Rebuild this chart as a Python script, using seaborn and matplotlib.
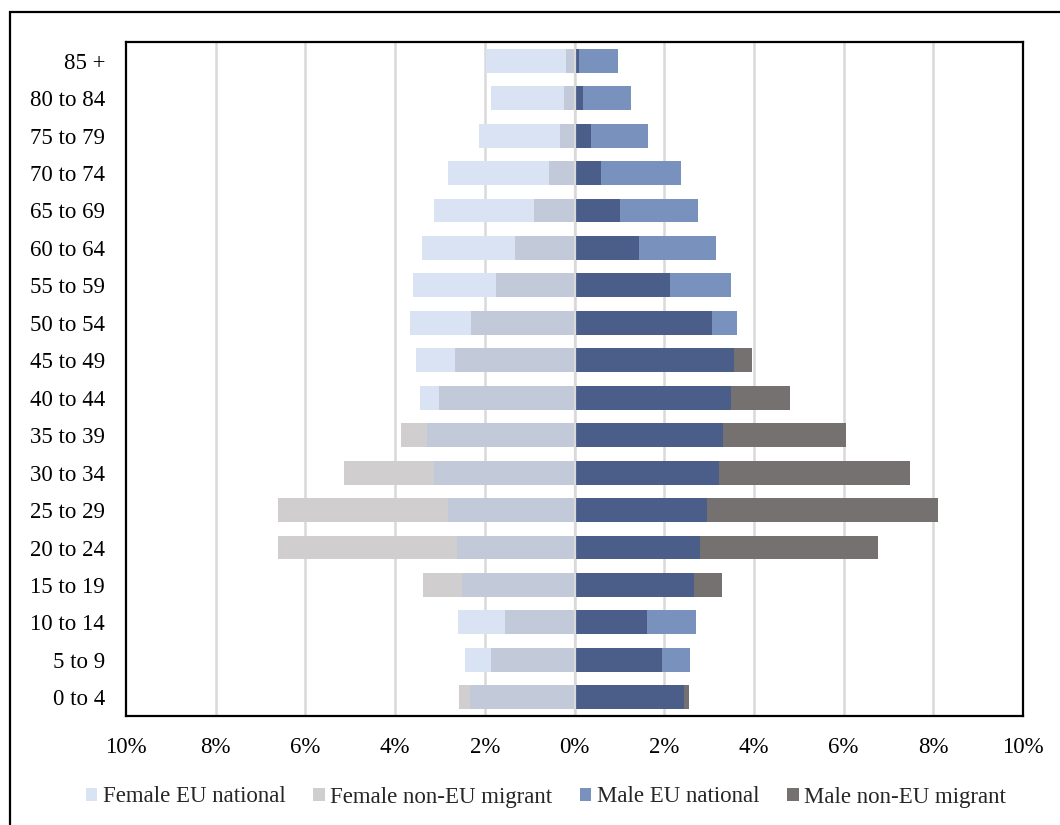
import numpy as np
import pandas as pd
import matplotlib
matplotlib.use("Agg")
import matplotlib.pyplot as plt
from matplotlib.patches import Patch, Rectangle
import seaborn as sns

# Age bands, oldest at the top
ages = ["85 +", "80 to 84", "75 to 79", "70 to 74", "65 to 69", "60 to 64",
        "55 to 59", "50 to 54", "45 to 49", "40 to 44", "35 to 39", "30 to 34",
        "25 to 29", "20 to 24", "15 to 19", "10 to 14", "5 to 9", "0 to 4"]

# Share of population (%) in each age band
female_eu = [1.97, 1.87, 2.13, 2.83, 3.13, 3.40, 3.60, 3.66, 3.54, 3.45,
             3.29, 3.13, 2.83, 2.62, 2.51, 2.59, 2.45, 2.32]
female_non_eu = [0.18, 0.24, 0.32, 0.56, 0.91, 1.32, 1.75, 2.30, 2.66, 3.02,
                 3.86, 5.15, 6.60, 6.62, 3.38, 1.54, 1.86, 2.57]
male_eu = [0.97, 1.25, 1.64, 2.37, 2.75, 3.16, 3.48, 3.63, 3.55, 3.48,
           3.31, 3.22, 2.95, 2.79, 2.67, 2.72, 2.58, 2.44]
male_non_eu = [0.10, 0.20, 0.36, 0.60, 1.02, 1.44, 2.13, 3.07, 3.95, 4.81,
               6.06, 7.47, 8.11, 6.76, 3.29, 1.61, 1.95, 2.56]

x_ticks = [-10, -8, -6, -4, -2, 0, 2, 4, 6, 8, 10]
x_tick_labels = ["10%", "8%", "6%", "4%", "2%", "0%", "2%", "4%", "6%", "8%", "10%"]

legend_labels = ["Female EU national", "Female non-EU migrant",
                 "Male EU national", "Male non-EU migrant"]

# Colours: each group, plus the darker shade where the two groups overlap
c_f_eu, c_f_non, c_f_both = "#dae3f3", "#d0cece", "#c2c9d9"
c_m_eu, c_m_non, c_m_both = "#7892bd", "#767171", "#4a5e89"

df = pd.DataFrame({
    "age": ages,
    "f_eu": -np.array(female_eu),
    "f_non": -np.array(female_non_eu),
    "f_both": -np.minimum(female_eu, female_non_eu),
    "m_eu": np.array(male_eu),
    "m_non": np.array(male_non_eu),
    "m_both": np.minimum(male_eu, male_non_eu),
})

sns.set_theme(style="white")
plt.rcParams["font.family"] = ["Liberation Serif", "DejaVu Serif"]

fig = plt.figure(figsize=(10.6, 8.25), dpi=100)
ax = fig.add_axes([126 / 1060, 1 - 716 / 825, (1023 - 126) / 1060, (716 - 42) / 825])

bar_w = 0.64
layers = [("f_eu", c_f_eu), ("f_non", c_f_non), ("f_both", c_f_both),
          ("m_eu", c_m_eu), ("m_non", c_m_non), ("m_both", c_m_both)]
for col, colour in layers:
    sns.barplot(data=df, x=col, y="age", order=ages, orient="h", color=colour,
                width=bar_w, saturation=1, linewidth=0, ax=ax, zorder=2)

ax.set_xlim(-10, 10)
ax.set_xticks(x_ticks)
ax.set_xticklabels(x_tick_labels)
ax.set_xlabel("")
ax.set_ylabel("")
ax.set_ylim(len(ages) - 0.5, -0.5)

# Vertical gridlines behind the bars; the zero line sits on top
for t in x_ticks:
    if t in (-10, 10):
        continue
    ax.axvline(t, color="#d9d9d9", lw=1.8, zorder=0.5)
ax.axvline(0, color="#d9d9d9", lw=1.6, zorder=3)

ax.tick_params(axis="both", length=0, labelsize=16.5, colors="black")
ax.tick_params(axis="x", pad=15)
ax.tick_params(axis="y", pad=15)
for s in ax.spines.values():
    s.set_visible(True)
    s.set_color("black")
    s.set_linewidth(1.6)
    s.set_zorder(4)

handles = [Patch(facecolor=c, edgecolor="none") for c in (c_f_eu, c_f_non, c_m_eu, c_m_non)]
fig.legend(handles, legend_labels, loc="center", bbox_to_anchor=(0.515, 1 - 797 / 825),
           ncol=4, frameon=False, fontsize=16.5, handlelength=0.5, handleheight=0.5,
           handletextpad=0.25, columnspacing=1.2)

# Outer chart border
fig.patches.append(Rectangle((10 / 1060, -0.1), 1.2, 1.1 - 12.5 / 825,
                             transform=fig.transFigure, fill=False,
                             edgecolor="black", lw=1.6))

fig.savefig("out.png", dpi=100)
